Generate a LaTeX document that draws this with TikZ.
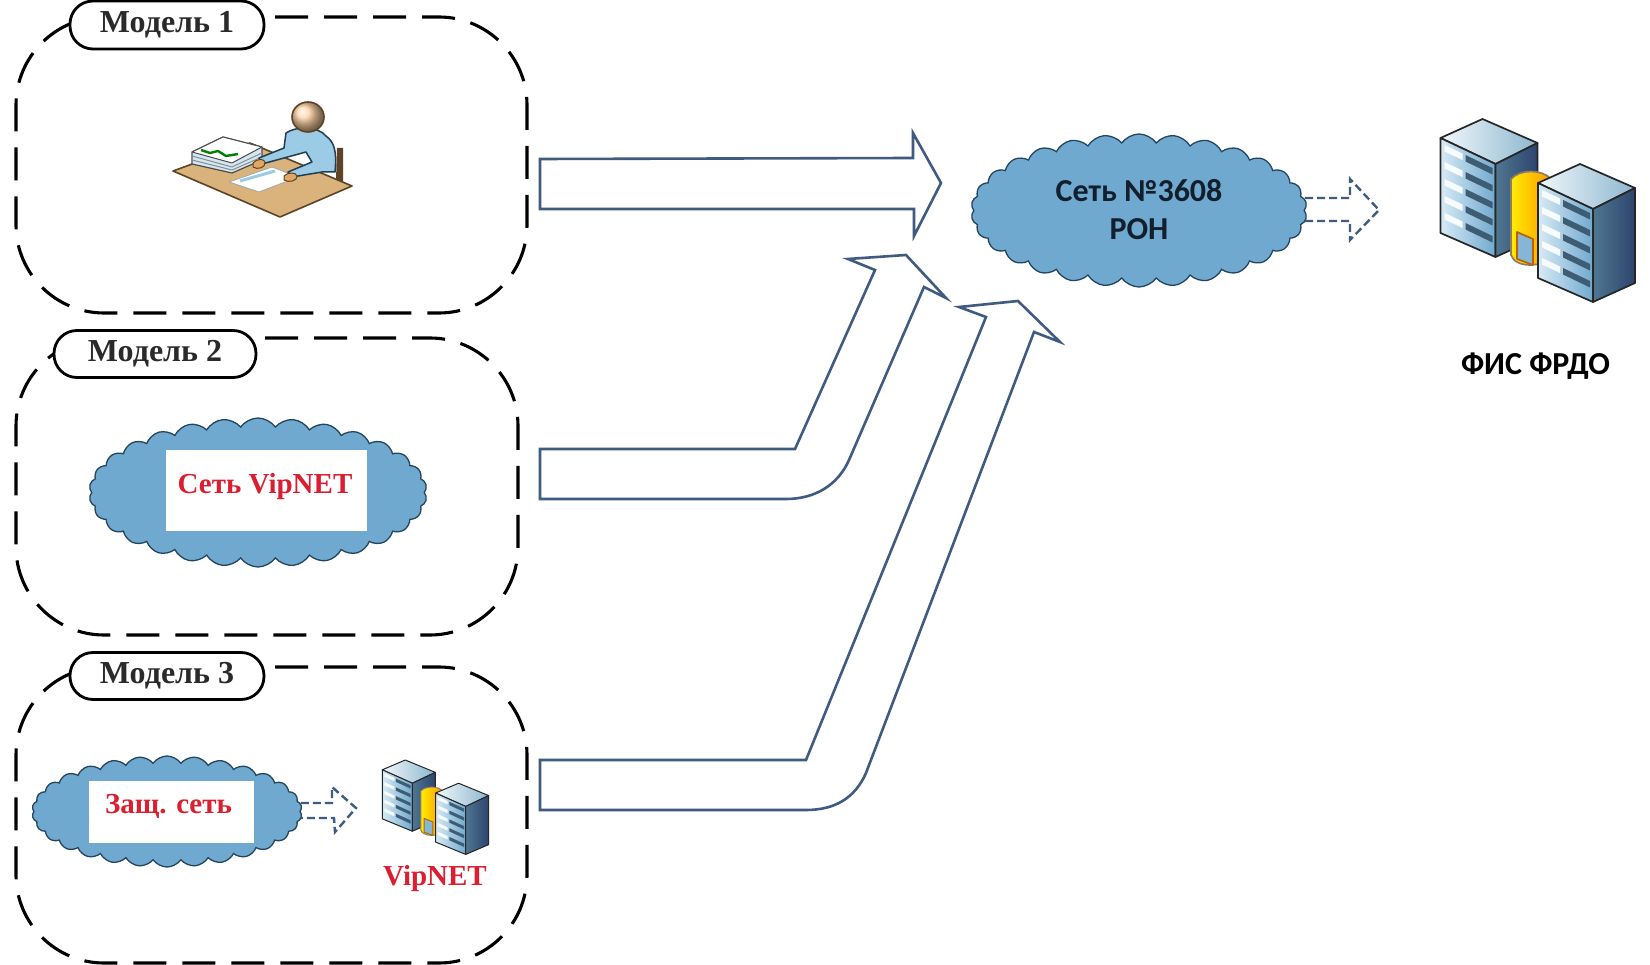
\documentclass[tikz,border=0pt]{standalone}
\usepackage{fontspec}
\setmainfont{Liberation Serif}
\newfontfamily\carl{Carlito}
\usetikzlibrary{shapes.symbols}
\definecolor{arrowblue}{HTML}{3F5B82}
\definecolor{cloudblue}{HTML}{70A9CF}
\definecolor{cloudline}{HTML}{24455E}
\definecolor{redtext}{HTML}{DB1F30}
\definecolor{labeltext}{HTML}{2A2A2A}
\definecolor{darktext}{HTML}{12202E}
\definecolor{deskfill}{HTML}{D9B27C}
\definecolor{deskline}{HTML}{5E4426}
\definecolor{bodyblue}{HTML}{9CCBE6}
\definecolor{bodyline}{HTML}{1F3F55}
\tikzset{
  dashframe/.style={draw=black,line width=3.1pt,dash pattern=on 33pt off 16pt},
  pill/.style={draw=black,fill=white,line width=2.8pt,rounded corners=23pt,inner sep=0pt,text=labeltext},
  blockarrow/.style={draw=arrowblue,fill=white,line width=2.6pt,line join=miter},
  dasharrow/.style={draw=arrowblue,line width=2.4pt,dash pattern=on 8pt off 4pt},
  netcloud/.style={cloud,cloud puffs=30,cloud puff arc=110,cloud ignores aspect,draw=cloudline,fill=cloudblue,line width=1.3pt,inner sep=0pt},
  whitebox/.style={fill=white,inner sep=0pt},
  redlabel/.style={text=redtext,font=\fontsize{29}{29}\selectfont\bfseries,inner sep=0pt},
  modellabel/.style={font=\fontsize{32}{32}\selectfont\bfseries},
  carllabel/.style={font=\carl\fontsize{32}{38}\selectfont\bfseries,inner sep=0pt,align=center},
}
\newcommand{\dashframebox}[5]{% left right top bottom startx
  \def\rr{88}
  \draw[dashframe] (#5,#3) -- ({#2-\rr},#3)
    .. controls ({#2-0.45*\rr},#3) and (#2,{#3+0.45*\rr}) .. (#2,{#3+\rr})
    -- (#2,{#4-\rr})
    .. controls (#2,{#4-0.45*\rr}) and ({#2-0.45*\rr},#4) .. ({#2-\rr},#4)
    -- ({#1+\rr},#4)
    .. controls ({#1+0.45*\rr},#4) and (#1,{#4-0.45*\rr}) .. (#1,{#4-\rr})
    -- (#1,{#3+\rr})
    .. controls (#1,{#3+0.45*\rr}) and ({#1+0.45*\rr},#3) .. ({#1+\rr},#3);
}
\newcommand{\onetower}[2]{% ox oy = upper left corner of the left face
  \begin{scope}[shift={(#1,#2)}]
    \path[draw=black!85,left color=white!85!bodyblue,right color=bodyblue!90!black] (0,0) -- (42,-19) -- (97,5) -- (55,26) -- cycle;
    \path[draw=black!85,left color=bodyblue!40,right color=cloudblue] (0,0) -- (55,26) -- (55,119) -- (0,95) -- cycle;
    \path[draw=black!85,left color=cloudblue!70!black,right color=cloudblue!45!black!90!blue] (55,26) -- (97,5) -- (97,100) -- (55,119) -- cycle;
    \foreach \r in {0,1,2,3,4}{
      \fill[white!92!bodyblue] (4,{7+\r*17}) -- (22,{15.5+\r*17}) -- (22,{22+\r*17}) -- (4,{13.5+\r*17}) -- cycle;
      \fill[cloudblue!55!black] (25,{17+\r*17}) -- (52,{30+\r*17}) -- (52,{36.5+\r*17}) -- (25,{23.5+\r*17}) -- cycle;
    }
  \end{scope}
}
\newcommand{\serverpair}[5]{% x y xscale yscale linewidth
  \begin{scope}[shift={(#1,#2)},xscale=#3,yscale=#4,line width=#5,line join=round]
    \onetower{0.5}{19}
    \path[draw=deskline!70,left color=yellow!85!orange,right color=orange!80!yellow] (71,60) .. controls (80,50) and (102,50) .. (111,60) -- (111,144) -- (90,146) .. controls (80,146) and (73,142) .. (71,136) -- cycle;
    \path[draw=orange!75!black,fill=cloudblue!85!white] (77,113) -- (93,120) -- (93,146) -- (77,140) -- cycle;
    \onetower{98}{64}
  \end{scope}
}
\begin{document}
\begin{tikzpicture}[x=1pt,y=-1pt]
\useasboundingbox (0,0) rectangle (1650,965);
\fill[white] (0,0) rectangle (1650,965);

% frames
\dashframebox{16}{527}{17}{313}{275}
\dashframebox{16}{518}{338}{635}{265}
\dashframebox{16}{527}{667}{963}{275}
\node[pill,modellabel,minimum width=194pt,minimum height=48pt] (m1) at (167,25) {Модель 1};
\node[pill,modellabel,minimum width=202pt,minimum height=47pt] (m2) at (155,354) {Модель 2};
\node[pill,modellabel,minimum width=194pt,minimum height=47pt] (m3) at (167,676) {Модель 3};

% block arrows
\draw[blockarrow] (540,159) -- (913,158) -- (913,133) -- (941,183) -- (914,236) -- (914,209) -- (540,209) -- cycle;
\draw[blockarrow] (540,449) -- (795,449) -- (875,270) -- (848,259) -- (906,255) -- (946,298) -- (924,287) -- (849,460)
  .. controls (838,485) and (815,499) .. (786,499) -- (540,499) -- cycle;
\draw[blockarrow] (540,760) -- (806,760) -- (986,317) -- (959,307) -- (1018,301) -- (1060,342) -- (1034,332) -- (866,773)
  .. controls (855,798) and (835,810) .. (806,810) -- (540,810) -- cycle;

% person at desk
\begin{scope}[line join=round]
  \fill[deskline] (337,148) -- (343,148) -- (343,184) -- (336,180) -- cycle;
  \draw[draw=deskline,fill=deskfill,line width=1.6pt] (173,171) -- (250,143) -- (352,186) -- (280,217) -- cycle;
  \draw[draw=black!70,fill=bodyblue!45,line width=1.2pt] (192,152) -- (223,137) -- (262,147) -- (262,160) -- (232,173) -- (192,164) -- cycle;
  \draw[draw=black!45,line width=1pt] (192,156) -- (232,167) -- (262,153);
  \draw[draw=black!45,line width=1pt] (192,160) -- (232,170) -- (262,157);
  \draw[draw=black!70,fill=white,line width=1pt] (192,152) -- (223,137) -- (262,147) -- (232,163) -- cycle;
  \draw[draw=green!50!black,line width=2.4pt] (201,150) -- (210,153) -- (218,151) -- (226,156) -- (238,154);
  \draw[draw=black!35,fill=white,line width=.8pt] (229,182) -- (272,167) -- (298,177) -- (259,192) -- cycle;
  \draw[draw=bodyblue,line width=3pt] (240,181) -- (275,171);
  \draw[draw=bodyline,fill=bodyblue,line width=1.5pt] (286,133) .. controls (296,126) and (318,126) .. (326,136)
     .. controls (334,142) and (337,150) .. (335,172) -- (322,172) -- (292,177) -- (288,172) -- (312,162) -- (306,152) -- (262,164) -- (259,158) -- (284,148) -- cycle;
  \draw[draw=deskline,fill=deskfill!80!orange,line width=1pt] (253,163) .. controls (256,159) and (264,158) .. (265,162) .. controls (266,168) and (257,170) .. (253,167) -- cycle;
  \draw[draw=deskline,fill=deskfill!80!orange,line width=1pt] (284,176) .. controls (288,172) and (296,172) .. (297,176) .. controls (298,181) and (288,183) .. (284,180) -- cycle;
  \draw[draw=deskline,ball color=orange!35,line width=1.6pt] (308,117) ellipse [x radius=16,y radius=15];
\end{scope}

% clouds
\node[netcloud,minimum width=336pt,minimum height=153pt] (ron) at (1139,210.5) {};
\node[carllabel,text=darktext] (rontext) at (1139,210) {Сеть №3608\\РОН};
\node[netcloud,minimum width=338pt,minimum height=149pt] (vip) at (258,492.5) {};
\node[whitebox,minimum width=201pt,minimum height=81pt] (vipbox) at (266.5,490.5) {};
\node[redlabel] (viptext) at (265,487) {Сеть VipNET};
\node[netcloud,minimum width=270pt,minimum height=111pt] (zas) at (167,811.5) {};
\node[whitebox,minimum width=165pt,minimum height=62pt] (zasbox) at (171.5,812) {};
\node[redlabel] (zastext) at (168.5,806) {Защ. сеть};
\node[redlabel] (viplabel) at (435,879) {VipNET};
\node[carllabel,text=black] (fis) at (1535.5,366) {ФИС ФРДО};

% dashed arrows
\draw[dasharrow] (ron.east|-0,198) -- (1350,198) -- (1350,179) -- (1379,210) -- (1350,240) -- (1350,221) -- (ron.east|-0,221);
\draw[dasharrow] (zas.east|-0,803) -- (332,803) -- (332,787) -- (356,808) -- (335,832) -- (334,818) -- (zas.east|-0,818);

% servers
\serverpair{1440}{119}{1}{1}{1.7pt}
\serverpair{382}{760}{0.547}{0.516}{1pt}
\end{tikzpicture}
\end{document}
